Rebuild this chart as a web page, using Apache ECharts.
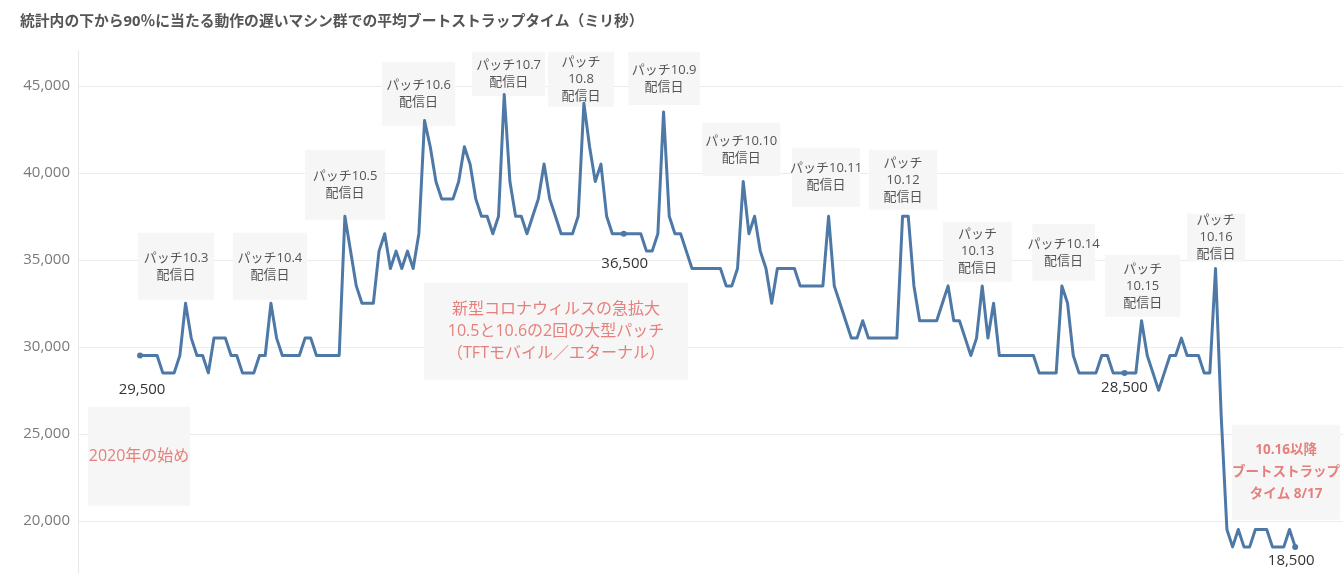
<!DOCTYPE html>
<html><head><meta charset="utf-8">
<script src="https://cdn.jsdelivr.net/npm/echarts@6/dist/echarts.min.js"></script>
<style>html,body{margin:0;padding:0;background:#fff}#c{width:1343px;height:579px}</style>
</head><body><div id="c"></div>
<script>
const titleText = '統計内の下から90％に当たる動作の遅いマシン群での平均ブートストラップタイム（ミリ秒）';
const yTicks = [20000, 25000, 30000, 35000, 40000, 45000];
const bootTime = [
  29500,29500,29500,29500,28500,28500,28500,29500,32500,30500,
  29500,29500,28500,30500,30500,30500,29500,29500,28500,28500,
  28500,29500,29500,32500,30500,29500,29500,29500,29500,30500,
  30500,29500,29500,29500,29500,29500,37500,35500,33500,32500,
  32500,32500,35500,36500,34500,35500,34500,35500,34500,36500,
  43000,41500,39500,38500,38500,38500,39500,41500,40500,38500,
  37500,37500,36500,37500,44500,39500,37500,37500,36500,37500,
  38500,40500,38500,37500,36500,36500,36500,37500,44000,41500,
  39500,40500,37500,36500,36500,36500,36500,36500,36500,35500,
  35500,36500,43500,37500,36500,36500,35500,34500,34500,34500,
  34500,34500,34500,33500,33500,34500,39500,36500,37500,35500,
  34500,32500,34500,34500,34500,34500,33500,33500,33500,33500,
  33500,37500,33500,32500,31500,30500,30500,31500,30500,30500,
  30500,30500,30500,30500,37500,37500,33500,31500,31500,31500,
  31500,32500,33500,31500,31500,30500,29500,30500,33500,30500,
  32500,29500,29500,29500,29500,29500,29500,29500,28500,28500,
  28500,28500,33500,32500,29500,28500,28500,28500,28500,29500,
  29500,28500,28500,28500,28500,28500,31500,29500,28500,27500,
  28500,29500,29500,30500,29500,29500,29500,28500,28500,34500,
  26000,19500,18500,19500,18500,18500,19500,19500,19500,18500,
  18500,18500,19500,18500
];
const labelledPoints = [0, 85, 173, 203];
const patchNotes = [
  'パッチ10.3\n配信日', 'パッチ10.4\n配信日', 'パッチ10.5\n配信日', 'パッチ10.6\n配信日',
  'パッチ10.7\n配信日', 'パッチ\n10.8\n配信日', 'パッチ10.9\n配信日', 'パッチ10.10\n配信日',
  'パッチ10.11\n配信日', 'パッチ\n10.12\n配信日', 'パッチ\n10.13\n配信日', 'パッチ10.14\n配信日',
  'パッチ\n10.15\n配信日', 'パッチ\n10.16\n配信日'
];
const redNotes = [
  '2020年の始め',
  '新型コロナウィルスの急拡大\n10.5と10.6の2回の大型パッチ\n（TFTモバイル／エターナル）',
  '10.16以降\nブートストラップ\nタイム 8/17'
];

// ---- layout (annotation boxes in data space: [x1, x2, yTop, yBottom]) ----
const patchBoxes = [
  [-0.35, 13.0, 36550, 32700], [16.3, 29.35, 36550, 32700], [29.0, 43.06, 41320, 37300],
  [42.5, 55.4, 46380, 42700], [58.35, 71.2, 46950, 44420], [71.7, 83.3, 46950, 43790],
  [85.8, 98.4, 46950, 43900], [98.8, 112.5, 42870, 39830], [114.6, 126.5, 41440, 38050],
  [128.1, 140.1, 41320, 37870], [141.1, 153.25, 37180, 33740], [156.8, 167.8, 37070, 33790],
  [169.6, 182.8, 35290, 31720], [184.0, 194.2, 37640, 34890]
];
const redBoxes = [
  [-9.14, 8.79, 26550, 20860, 16, 'normal', 22],
  [49.9, 96.3, 33680, 28100, 16, 'normal', 22],
  [191.9, 210.9, 25520, 20060, 13.5, 'bold', 22]
];
const labelOffsets = { 0: [2, 34], 85: [1, 30], 173: [0, 15], 203: [-4, 14] };

const FONT = "'Open Sans', 'Noto Sans CJK JP', sans-serif";
const fmt = v => v.toLocaleString('en-US');

const seriesData = bootTime.map((v, i) => {
  if (labelledPoints.includes(i)) {
    return {
      value: [i, v], symbolSize: 6,
      label: { show: true, position: 'inside', offset: labelOffsets[i], formatter: fmt(v),
        color: '#333', fontSize: 15, fontFamily: FONT }
    };
  }
  return { value: [i, v] };
});

const areaData = [];
patchNotes.forEach((t, k) => {
  const b = patchBoxes[k];
  areaData.push([
    { coord: [b[0], b[2]], label: { show: true, position: 'inside', formatter: t,
      color: '#555', fontSize: 13, lineHeight: 17, fontFamily: FONT } },
    { coord: [b[1], b[3]] }
  ]);
});
redNotes.forEach((t, k) => {
  const b = redBoxes[k];
  areaData.push([
    { coord: [b[0], b[2]], label: { show: true, position: 'inside', formatter: t,
      color: '#e5807c', fontSize: b[4], fontWeight: b[5], lineHeight: b[6], fontFamily: FONT } },
    { coord: [b[1], b[3]] }
  ]);
});

const chart = echarts.init(document.getElementById('c'), null, { renderer: 'canvas' });
chart.setOption({
  animation: false,
  backgroundColor: '#fff',
  title: { text: titleText, left: 15, top: 9,
    textStyle: { fontSize: 14.8, fontWeight: 'bold', color: '#555', fontFamily: FONT } },
  grid: { left: 78, right: 0, top: 51, bottom: 6, containLabel: false },
  xAxis: { type: 'value', min: -10.9, max: 211.4, show: false },
  yAxis: {
    type: 'value', min: 17000, max: 47000, interval: 1000,
    axisLine: { show: true, onZero: false, lineStyle: { color: '#e8e8e8', width: 1 } },
    axisTick: { show: false },
    axisLabel: { margin: 8, fontSize: 15, color: '#7a7a7a', fontFamily: FONT,
      formatter: v => yTicks.includes(v) ? fmt(v) : '' },
    splitLine: { show: false }
  },
  series: [{
    type: 'line',
    data: [],
    z: 0,
    silent: true,
    markLine: {
      silent: true, z: 0, symbol: ['none', 'none'],
      lineStyle: { color: '#ebebeb', type: 'solid', width: 1 },
      label: { show: false },
      data: yTicks.map(v => ({ yAxis: v }))
    }
  }, {
    type: 'line',
    data: [],
    z: 1,
    silent: true,
    markArea: {
      silent: true, z: 1,
      itemStyle: { color: '#f6f6f6' },
      data: areaData
    }
  }, {
    type: 'line',
    data: seriesData,
    symbol: 'circle', symbolSize: 0, showSymbol: true,
    itemStyle: { color: '#4e79a7' },
    lineStyle: { color: '#4e79a7', width: 3, join: 'round' },
    z: 5
  }]
});
</script>
</body></html>
